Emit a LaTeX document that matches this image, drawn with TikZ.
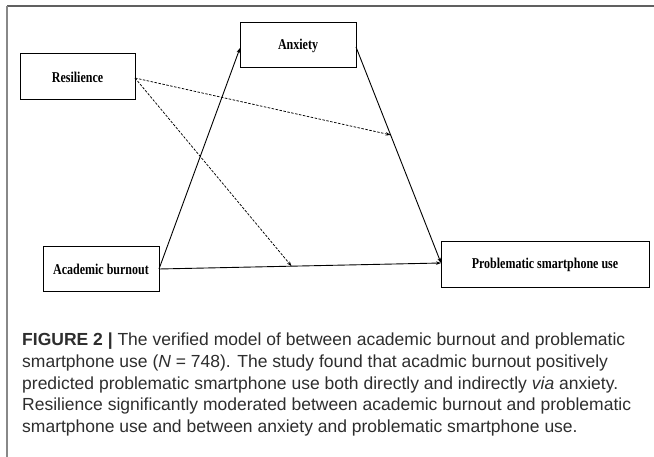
\documentclass[tikz,border=0pt]{standalone}
\usepackage{fontspec}
\setmainfont{Liberation Serif}
\setsansfont{Liberation Sans}
\newfontfamily\boxfont{Liberation Serif}[FakeStretch=0.8]
\usetikzlibrary{arrows.meta,calc}
\definecolor{framegray}{HTML}{606060}
\definecolor{captext}{HTML}{2E2E2E}
\tikzset{
  varbox/.style={draw=black, line width=1pt, rectangle, inner sep=0pt, font=\boxfont\bfseries\fontsize{15}{17}\selectfont},
  path/.style={draw=black, line width=0.9pt, -{Stealth[length=5pt,width=3.5pt]}},
  modpath/.style={draw=black, line width=0.75pt, dash pattern=on 2.5pt off 1.5pt, -{Stealth[length=5pt,width=3.5pt]}},
  caption/.style={anchor=north west, align=left, inner sep=0pt, text=captext, font=\sffamily\fontsize{17.5}{21.6}\selectfont}
}
\begin{document}
\begin{tikzpicture}[x=1pt,y=-1pt]
\useasboundingbox (0,0) rectangle (654,457);
\fill[white] (0,0) rectangle (654,457);
% frame
\draw[framegray, line width=1.6pt] (7,6) -- (654,6);
\draw[framegray!75, line width=1.3pt] (7,6) -- (7,457);
% boxes
\node[varbox, minimum width=115pt, minimum height=46pt] (res) at (77.5,77) {Resilience};
\node[varbox, minimum width=116pt, minimum height=45pt] (anx) at (298,45.5) {Anxiety};
\node[varbox, minimum width=116pt, minimum height=45pt] (bur) at (101,269.5) {Academic burnout};
\node[varbox, minimum width=208pt, minimum height=46pt] (psu) at (545,265) {Problematic smartphone use};
% anchor coordinates
\coordinate (burout) at (159,269);
\coordinate (anxin) at (240,48);
\coordinate (anxout) at (356,47);
\coordinate (psuin) at (441,263);
\coordinate (resout) at (135,78);
\coordinate (m1) at ($(anxout)!0.407!(psuin)$);
\coordinate (m2) at ($(burout)!0.47!(psuin)$);
% paths
\draw[path] (burout) -- (anxin);
\draw[path] (anxout) -- (psuin);
\draw[path] (burout) -- (psuin);
\draw[modpath] (resout) -- (m1);
\draw[modpath] (resout) -- (m2);
% caption
\node[caption] (cap) at (22,333) {\textbf{FIGURE 2 |} The verified model of between academic burnout and problematic\\
smartphone use (\textit{N} = 748). The study found that acadmic burnout positively\\
predicted problematic smartphone use both directly and indirectly \textit{via} anxiety.\\
Resilience significantly moderated between academic burnout and problematic\\
smartphone use and between anxiety and problematic smartphone use.};
\end{tikzpicture}
\end{document}
